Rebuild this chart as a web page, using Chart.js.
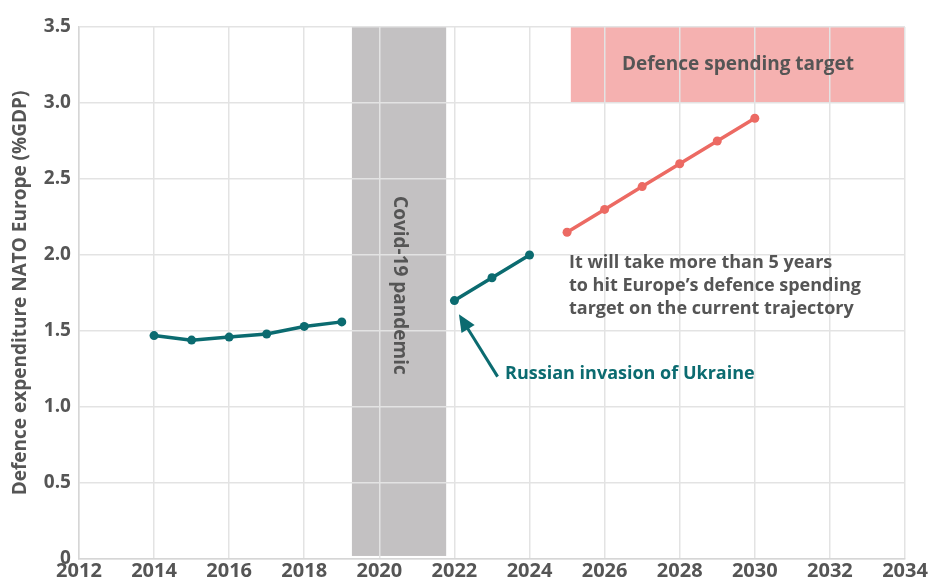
<!DOCTYPE html>
<html>
<head>
<meta charset="utf-8">
<script src="https://cdn.jsdelivr.net/npm/chart.js@4"></script>
<style>
  html, body { margin: 0; padding: 0; background: #fff; }
  #wrap { width: 942px; height: 583px; }
</style>
</head>
<body>
<div id="wrap"><canvas id="chart_canvas"></canvas></div>
<script>
const histYears = [2014, 2015, 2016, 2017, 2018, 2019];
const histValues = [1.47, 1.44, 1.46, 1.48, 1.53, 1.56];
const warYears = [2022, 2023, 2024];
const warValues = [1.70, 1.85, 2.00];
const projYears = [2025, 2026, 2027, 2028, 2029, 2030];
const projValues = [2.15, 2.30, 2.45, 2.60, 2.75, 2.90];

const covidBand = [2019.27, 2021.78];
const targetBand = { from: 2025.1, to: 2034, low: 3.0, high: 3.5 };

const FONT = '"Open Sans", "Noto Sans", sans-serif';
const TEAL = '#0b6b70';
const RED = '#ec6a63';
const GREY_TEXT = '#555555';

const pts = (xs, ys) => xs.map((x, i) => ({ x: x, y: ys[i] }));

const overlays = {
    id: 'overlays',
    beforeDraw(chart) {
        const { ctx, scales: { x, y } } = chart;
        ctx.save();
        // covid period
        ctx.fillStyle = '#c3c1c2';
        const cx0 = x.getPixelForValue(covidBand[0]);
        const cx1 = x.getPixelForValue(covidBand[1]);
        ctx.fillRect(cx0, y.getPixelForValue(3.5), cx1 - cx0, y.getPixelForValue(0.02) - y.getPixelForValue(3.5));
        // target zone
        ctx.fillStyle = '#f5b1b0';
        const tx0 = x.getPixelForValue(targetBand.from);
        const tx1 = x.getPixelForValue(targetBand.to);
        const ty0 = y.getPixelForValue(targetBand.high);
        const ty1 = y.getPixelForValue(targetBand.low);
        ctx.fillRect(tx0, ty0, tx1 - tx0, ty1 - ty0);
        ctx.restore();
    },
    afterDatasetsDraw(chart) {
        const { ctx, scales: { x, y } } = chart;
        ctx.save();
        ctx.textBaseline = 'middle';

        // band labels
        ctx.fillStyle = GREY_TEXT;
        ctx.font = 'bold 19px ' + FONT;
        ctx.textAlign = 'center';
        ctx.fillText('Defence spending target',
            (x.getPixelForValue(targetBand.from) + x.getPixelForValue(targetBand.to)) / 2,
            y.getPixelForValue(3.25));

        ctx.save();
        ctx.translate((x.getPixelForValue(covidBand[0]) + x.getPixelForValue(covidBand[1])) / 2, y.getPixelForValue(1.8));
        ctx.rotate(Math.PI / 2);
        ctx.fillText('Covid-19 pandemic', 0, 0);
        ctx.restore();

        // trajectory note
        ctx.textAlign = 'left';
        ctx.font = 'bold 18px ' + FONT;
        const noteX = x.getPixelForValue(2025.05);
        ['It will take more than 5 years',
         'to hit Europe\u2019s defence spending',
         'target on the current trajectory'].forEach((line, i) => {
            ctx.fillText(line, noteX, y.getPixelForValue(1.95) + i * 23);
        });

        // invasion label + arrow
        ctx.fillStyle = TEAL;
        ctx.fillText('Russian invasion of Ukraine', x.getPixelForValue(2023.35), y.getPixelForValue(1.22));

        const ax0 = x.getPixelForValue(2023.15), ay0 = y.getPixelForValue(1.20);
        const ax1 = x.getPixelForValue(2022.12), ay1 = y.getPixelForValue(1.61);
        const ang = Math.atan2(ay1 - ay0, ax1 - ax0);
        const head = 19;
        ctx.strokeStyle = TEAL;
        ctx.lineWidth = 3;
        ctx.beginPath();
        ctx.moveTo(ax0, ay0);
        ctx.lineTo(ax1 - Math.cos(ang) * head * 0.8, ay1 - Math.sin(ang) * head * 0.8);
        ctx.stroke();
        ctx.beginPath();
        ctx.moveTo(ax1, ay1);
        ctx.lineTo(ax1 - head * Math.cos(ang - 0.42), ay1 - head * Math.sin(ang - 0.42));
        ctx.lineTo(ax1 - head * Math.cos(ang + 0.42), ay1 - head * Math.sin(ang + 0.42));
        ctx.closePath();
        ctx.fill();
        ctx.restore();
    }
};

const lineStyle = (color) => ({
    borderColor: color,
    backgroundColor: color,
    borderWidth: 3.5,
    pointRadius: 4.5,
    pointHoverRadius: 4.5,
    pointBorderWidth: 0,
    tension: 0,
    fill: false
});

const ctx = document.getElementById('chart_canvas').getContext('2d');
new Chart(ctx, {
    type: 'line',
    data: {
        datasets: [
            { label: 'pre-war', data: pts(histYears, histValues), ...lineStyle(TEAL) },
            { label: 'war', data: pts(warYears, warValues), ...lineStyle(TEAL) },
            { label: 'projection', data: pts(projYears, projValues), ...lineStyle(RED) }
        ]
    },
    options: {
        responsive: true,
        maintainAspectRatio: false,
        animation: false,
        layout: { padding: { top: 27, right: 37, left: 9, bottom: 0 } },
        plugins: {
            legend: { display: false },
            tooltip: { enabled: false }
        },
        scales: {
            x: {
                type: 'linear',
                min: 2012,
                max: 2034,
                grid: { color: '#e3e3e3', lineWidth: 1.5, drawTicks: false },
                border: { color: '#d6d6d6', width: 1.5 },
                ticks: {
                    stepSize: 2,
                    padding: 2,
                    color: GREY_TEXT,
                    font: { family: FONT, size: 20, weight: 'bold', lineHeight: 1.0 },
                    callback: (v) => String(v)
                }
            },
            y: {
                min: 0,
                max: 3.5,
                grid: { color: '#e3e3e3', lineWidth: 1.5, drawTicks: false },
                border: { color: '#d6d6d6', width: 1.5 },
                ticks: {
                    stepSize: 0.5,
                    padding: 8,
                    color: GREY_TEXT,
                    font: { family: FONT, size: 19, weight: 'bold' },
                    callback: (v) => v === 0 ? '0' : v.toFixed(1)
                },
                title: {
                    display: true,
                    text: 'Defence expenditure NATO Europe (%GDP)',
                    color: GREY_TEXT,
                    font: { family: FONT, size: 19, weight: 'bold' },
                    padding: { top: 0, bottom: 4 }
                }
            }
        }
    },
    plugins: [overlays]
});
</script>
</body>
</html>
